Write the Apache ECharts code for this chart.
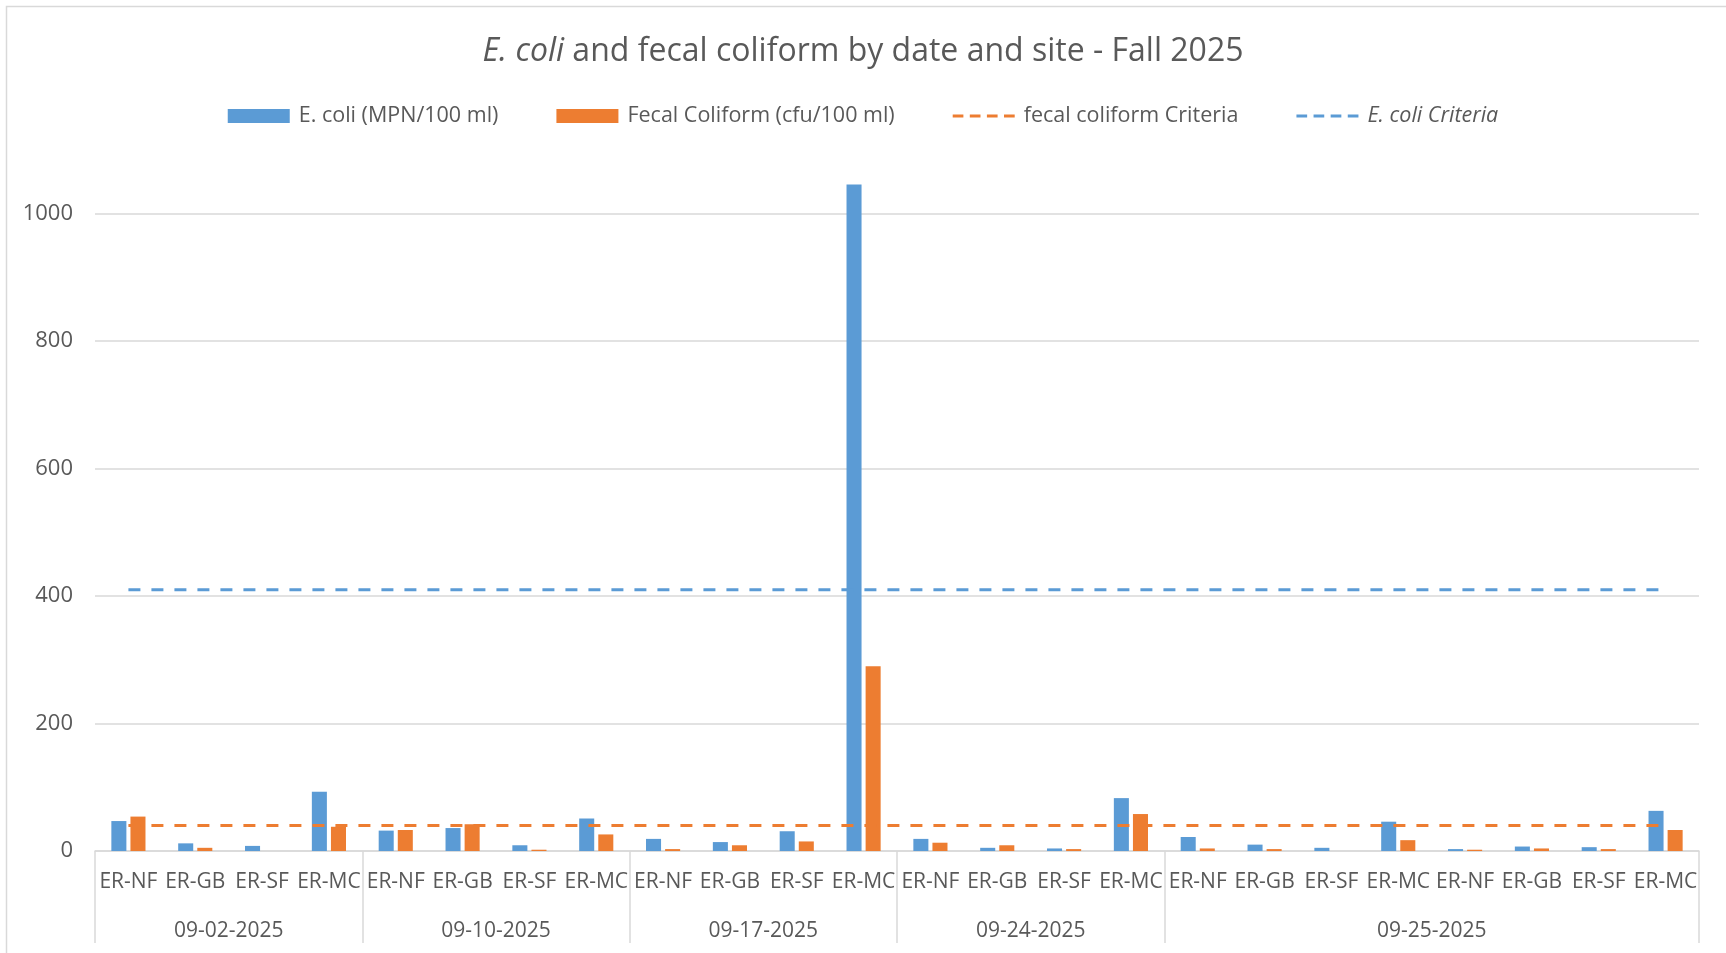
<!DOCTYPE html>
<html>
<head>
<meta charset="utf-8">
<script src="https://cdn.jsdelivr.net/npm/echarts@6/dist/echarts.min.js"></script>
<style>
  html, body { margin: 0; padding: 0; background: #fff; }
  #chart { width: 1726px; height: 953px; }
</style>
</head>
<body>
<div id="chart"></div>
<script>
// site labels, one per bar pair
var sites = ['ER-NF', 'ER-GB', 'ER-SF', 'ER-MC', 'ER-NF', 'ER-GB', 'ER-SF', 'ER-MC',
  'ER-NF', 'ER-GB', 'ER-SF', 'ER-MC', 'ER-NF', 'ER-GB', 'ER-SF', 'ER-MC',
  'ER-NF', 'ER-GB', 'ER-SF', 'ER-MC', 'ER-NF', 'ER-GB', 'ER-SF', 'ER-MC']
// sampling dates and how many sites fall under each
var dates = ['09-02-2025', '09-10-2025', '09-17-2025', '09-24-2025', '09-25-2025']
var dateSizes = [4, 4, 4, 4, 8]

var ecoli = [47, 12, 8, 93, 32, 36, 9, 51, 19, 14, 31, 1046, 19, 5, 4, 83, 22, 10, 5, 46, 3, 7, 6, 63]
var fecal = [54, 5, 0, 38, 33, 42, 2, 26, 3, 9, 15, 290, 13, 9, 3, 58, 4, 3, 0, 17, 2, 4, 3, 33]
var fecalCriteria = [40, 40, 40, 40, 40, 40, 40, 40, 40, 40, 40, 40, 40, 40, 40, 40, 40, 40, 40, 40, 40, 40, 40, 40]
var ecoliCriteria = [410, 410, 410, 410, 410, 410, 410, 410, 410, 410, 410, 410, 410, 410, 410, 410, 410, 410, 410, 410, 410, 410, 410, 410]
var yTicks = [0, 200, 400, 600, 800, 1000]

// group boundaries and centres on the 0..24 scale of the second axis
var bounds = [0]
var centres = []
var run = 0
dateSizes.forEach(function (n) {
  centres.push(run + n / 2)
  run += n
  bounds.push(run)
})

var grey = '#595959'
var font = 'Open Sans'
var dashIcon = 'path://M0,0h10v3h-10zM16,0h10v3h-10zM32,0h10v3h-10zM48,0h10v3h-10z'

var chart = echarts.init(document.getElementById('chart'))
chart.setOption({
  backgroundColor: '#fff',
  textStyle: { fontFamily: font },
  graphic: [{
    type: 'rect',
    shape: { x: 6.5, y: 6.5, width: 1740, height: 960 },
    style: { fill: 'none', stroke: '#D9D9D9', lineWidth: 1.5 },
    silent: true
  }],
  title: {
    text: '{i|E. coli} and fecal coliform by date and site - Fall 2025',
    left: 'center',
    top: 31,
    textStyle: {
      fontFamily: font,
      fontSize: 32,
      fontWeight: 'normal',
      color: grey,
      rich: {
        i: { fontFamily: font, fontSize: 32, fontStyle: 'italic', color: grey }
      }
    }
  },
  legend: {
    top: 100,
    left: 'center',
    itemWidth: 62,
    itemHeight: 14,
    itemGap: 58,
    symbolKeepAspect: true,
    data: [
      { name: 'E. coli (MPN/100 ml)', icon: 'rect' },
      { name: 'Fecal Coliform (cfu/100 ml)', icon: 'rect' },
      { name: 'fecal coliform Criteria', icon: dashIcon },
      { name: 'E. coli Criteria', icon: dashIcon }
    ],
    formatter: function (name) {
      return name === 'E. coli Criteria' ? '{i|' + name + '}' : name
    },
    textStyle: {
      fontFamily: font,
      fontSize: 21.5,
      color: grey,
      padding: [0, 0, 0, 4],
      rich: {
        i: { fontFamily: font, fontSize: 21.5, fontStyle: 'italic', color: grey }
      }
    }
  },
  grid: {
    left: 95,
    right: 27,
    top: 150,
    bottom: 102
  },
  xAxis: [{
    type: 'category',
    data: sites,
    axisLine: { lineStyle: { color: '#D9D9D9', width: 1.5 } },
    axisTick: { show: false },
    axisLabel: {
      interval: 0,
      margin: 21,
      fontFamily: font,
      fontSize: 21,
      color: grey
    }
  }, {
    type: 'value',
    position: 'bottom',
    min: 0,
    max: 24,
    axisLine: { show: false },
    splitLine: { show: false },
    axisTick: {
      show: true,
      customValues: bounds,
      length: 92,
      lineStyle: { color: '#D9D9D9', width: 1.5 }
    },
    axisLabel: {
      customValues: centres,
      margin: 70,
      fontFamily: font,
      fontSize: 21,
      color: grey,
      formatter: function (v) {
        return dates[centres.indexOf(v)]
      }
    }
  }],
  yAxis: {
    type: 'value',
    min: 0,
    max: 1100,
    interval: 200,
    axisLine: { show: false },
    axisTick: { show: false },
    axisLabel: {
      margin: 22,
      fontFamily: font,
      fontSize: 22,
      color: grey,
      customValues: yTicks,
      formatter: function (v) {
        return String(v)
      }
    },
    splitLine: {
      showMaxLine: false,
      lineStyle: { color: '#D9D9D9', width: 1.5 }
    }
  },
  series: [{
    name: 'E. coli (MPN/100 ml)',
    type: 'bar',
    xAxisIndex: 0,
    data: ecoli,
    barWidth: '22.5%',
    barGap: '27%',
    itemStyle: { color: '#5B9BD5' }
  }, {
    name: 'Fecal Coliform (cfu/100 ml)',
    type: 'bar',
    xAxisIndex: 0,
    data: fecal,
    barWidth: '22.5%',
    barGap: '27%',
    itemStyle: { color: '#ED7D31' }
  }, {
    name: 'fecal coliform Criteria',
    type: 'line',
    xAxisIndex: 0,
    data: fecalCriteria,
    symbol: 'none',
    z: 5,
    itemStyle: { color: '#ED7D31' },
    lineStyle: { color: '#ED7D31', width: 3, type: [12, 11] }
  }, {
    name: 'E. coli Criteria',
    type: 'line',
    xAxisIndex: 0,
    data: ecoliCriteria,
    symbol: 'none',
    z: 5,
    itemStyle: { color: '#5B9BD5' },
    lineStyle: { color: '#5B9BD5', width: 3, type: [12, 11] }
  }]
})
</script>
</body>
</html>
